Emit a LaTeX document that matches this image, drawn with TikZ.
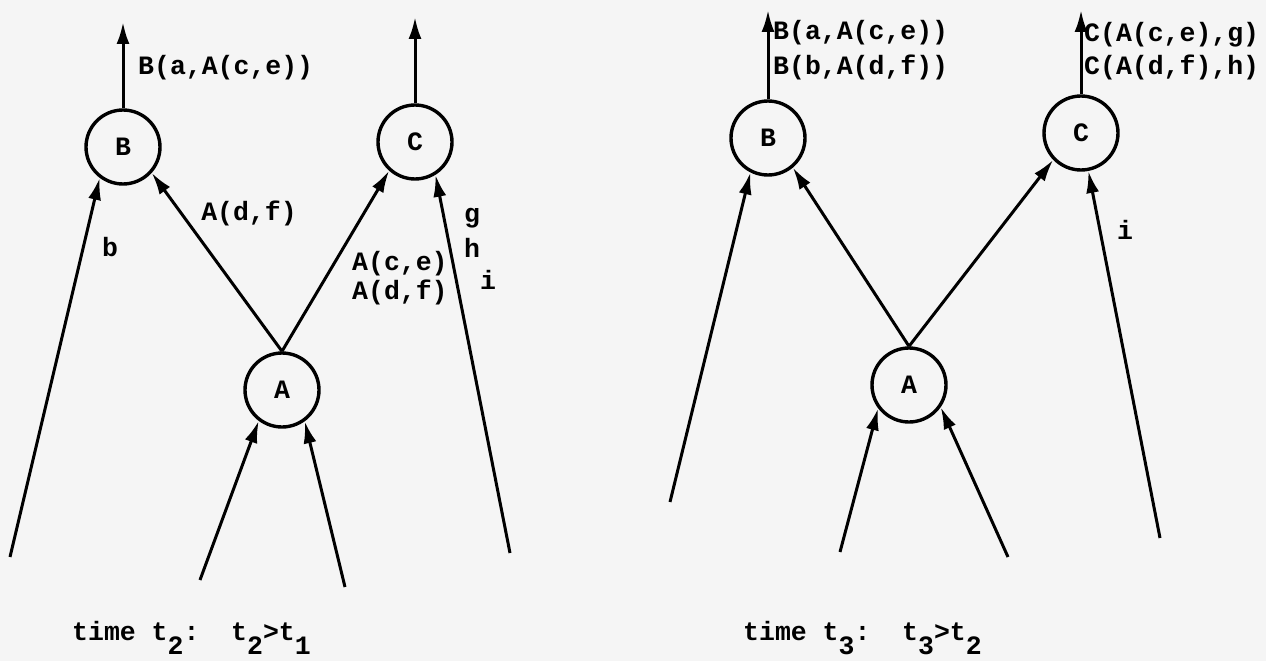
\documentclass[tikz,border=0pt]{standalone}
\usepackage{fontspec}
\setmonofont{Liberation Mono}
\usetikzlibrary{arrows.meta}
\newcommand\lowr[1]{\raisebox{-0.55em}{#1}}
\begin{document}
\begin{tikzpicture}[x=1pt,y=-1pt,
  every node/.style={font=\ttfamily\bfseries\fontsize{26.5}{32}\selectfont, text=black},
  circ/.style={circle, draw, line width=3.4pt, minimum size=74pt, inner sep=0pt},
  lbl/.style={inner sep=0pt, anchor=west},
  arr/.style={line width=3pt, -{Latex[length=22pt,width=13pt]}}]
\fill[white!96!black] (0,0) rectangle (1266,661);
\useasboundingbox (0,0) rectangle (1266,661);

% ---------- left diagram (time t2)
\node[circ] (B1) at (123,147) {B};
\node[circ] (C1) at (415,142) {C};
\node[circ] (A1) at (282,390) {A};
\coordinate (B1o) at (123,22);
\coordinate (C1o) at (415,17);
\coordinate (b1) at (10,557);
\coordinate (g1) at (510,553);
\coordinate (a1l) at (200,580);
\coordinate (a1r) at (345,587);

\draw[arr] (B1.north) -- (B1o);
\draw[arr] (C1.north) -- (C1o);
\draw[arr] (b1) -- (B1.233);
\draw[arr] (A1.north) -- (B1.318);
\draw[arr] (A1.north) -- (C1.228);
\draw[arr] (g1) -- (C1.302);
\draw[arr] (a1l) -- (A1.233);
\draw[arr] (a1r) -- (A1.306);

\node[lbl] (l1) at (138,68) {B(a,A(c,e))};
\node[inner sep=0pt] (lb) at (110,247) {b};
\node[inner sep=0pt] (lad) at (249,213) {A(d,f)};
\node[lbl] (lce) at (352,264) {A(c,e)};
\node[lbl] (ldf) at (352,292) {A(d,f)};
\node[inner sep=0pt] (lg) at (472,218) {g};
\node[inner sep=0pt] (lh) at (472,248) {h};
\node[inner sep=0pt] (li) at (488,280) {i};
\node[inner sep=0pt, anchor=base west] (cap1) at (72,640) {time t\lowr{2}:~~t\lowr{2}>t\lowr{1}};

% ---------- right diagram (time t3)
\node[circ] (B2) at (768,138) {B};
\node[circ] (C2) at (1081,133) {C};
\node[circ] (A2) at (909,385) {A};
\coordinate (B2o) at (768,10);
\coordinate (C2o) at (1081,10);
\coordinate (b2) at (670,502);
\coordinate (i2) at (1160,538);
\coordinate (a2l) at (840,552);
\coordinate (a2r) at (1008,557);

\draw[arr] (B2.north) -- (B2o);
\draw[arr] (C2.north) -- (C2o);
\draw[arr] (b2) -- (B2.243);
\draw[arr] (A2.north) -- (B2.310);
\draw[arr] (A2.north) -- (C2.224);
\draw[arr] (i2) -- (C2.281);
\draw[arr] (a2l) -- (A2.217);
\draw[arr] (a2r) -- (A2.325);

\node[lbl] (r1) at (773,33) {B(a,A(c,e))};
\node[lbl] (r2) at (773,67) {B(b,A(d,f))};
\node[lbl] (r3) at (1084,35) {C(A(c,e),g)};
\node[lbl] (r4) at (1084,67) {C(A(d,f),h)};
\node[inner sep=0pt] (ri) at (1125,230) {i};
\node[inner sep=0pt, anchor=base west] (cap2) at (743,640) {time t\lowr{3}:~~t\lowr{3}>t\lowr{2}};
\end{tikzpicture}
\end{document}
